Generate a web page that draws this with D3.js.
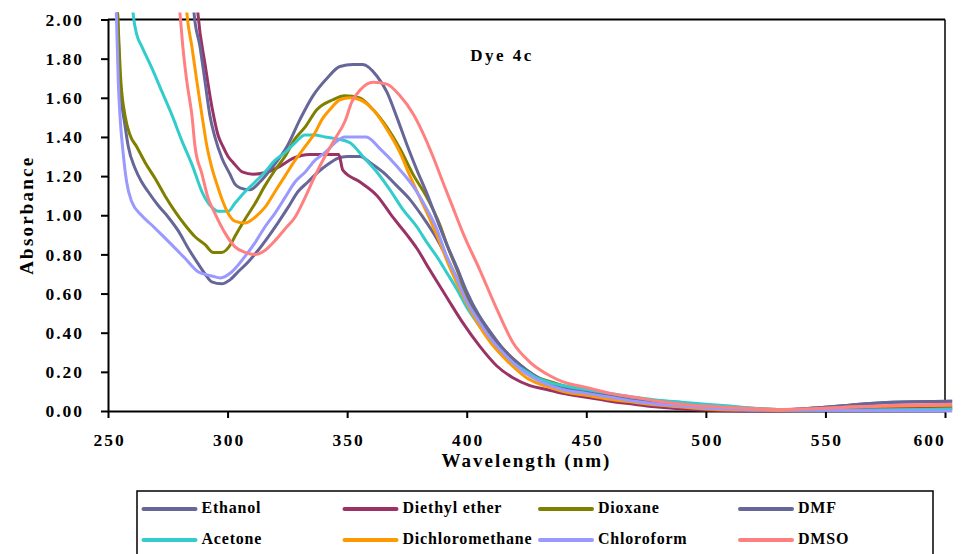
<!DOCTYPE html>
<html>
<head>
<meta charset="utf-8">
<script src="https://cdn.jsdelivr.net/npm/d3@7/dist/d3.min.js"></script>
<style>
body { margin: 0; background: #fff; }
text { font-family: "Liberation Serif", "Times New Roman", serif; font-weight: bold; fill: #000; }
</style>
</head>
<body>
<div id="chart"></div>
<script>
// absorbance spectra, [wavelength nm, absorbance]
var ethanol = [[252,2.3],[254,2.03],[255,1.68],[257.1,1.46],[258.5,1.35],[261.3,1.24],[264.1,1.17],[266.8,1.12],[271,1.05],[275.2,0.99],[279.4,0.92],[283.6,0.83],[287.8,0.75],[290.6,0.70],[293.4,0.66],[297.5,0.65],[301,0.67],[304.3,0.71],[308.5,0.76],[312.7,0.82],[317,0.89],[321,0.96],[325.3,1.04],[329.4,1.12],[333.6,1.17],[337.8,1.22],[342,1.26],[346,1.29],[350,1.30],[355.4,1.30],[359.5,1.27],[365,1.22],[370.8,1.15],[376.3,1.08],[381.7,0.99],[387.5,0.88],[391,0.80],[395,0.70],[400,0.58],[405,0.47],[410,0.38],[415,0.31],[420,0.25],[425,0.20],[430,0.16],[435,0.14],[440,0.12],[450,0.10],[460,0.075],[470,0.055],[480,0.04],[490,0.03],[500,0.02],[515,0.01],[530,0.005],[545,0.015],[560,0.03],[578,0.045],[603,0.05]];
var diethylEther = [[286,2.3],[287.6,2.03],[290.6,1.77],[293.5,1.55],[296,1.41],[298.1,1.35],[300.2,1.30],[302.3,1.27],[306.4,1.22],[310.6,1.21],[316.5,1.22],[321.9,1.25],[327.3,1.29],[334.4,1.31],[341.6,1.31],[346.5,1.31],[348.2,1.23],[355.4,1.17],[362.5,1.10],[369.1,0.99],[375,0.90],[379.2,0.83],[384.6,0.72],[391.7,0.58],[398.4,0.45],[405.5,0.33],[412.6,0.23],[419.3,0.17],[426.4,0.13],[433.5,0.11],[440,0.09],[450,0.07],[460,0.05],[470,0.035],[480,0.02],[490,0.01],[500,0.005],[520,0.0],[540,0.003],[560,0.01],[603,0.02]];
var dioxane = [[252.5,2.3],[254,2.03],[255.4,1.68],[257.1,1.51],[259.2,1.41],[262,1.35],[265.5,1.27],[269.6,1.19],[273.8,1.10],[278,1.02],[282.2,0.95],[286.4,0.89],[290.6,0.85],[294,0.81],[297.5,0.81],[301.7,0.86],[303,0.89],[307.3,0.98],[311.5,1.06],[315.6,1.15],[319.8,1.23],[324,1.30],[328.2,1.39],[332.4,1.45],[337.4,1.54],[344,1.59],[349,1.61],[355,1.60],[360.8,1.54],[366.6,1.45],[372.1,1.34],[377.5,1.21],[383.4,1.09],[388.8,0.95],[392,0.84],[396,0.72],[400,0.60],[405,0.49],[410,0.40],[415,0.32],[420,0.26],[425,0.21],[430,0.17],[435,0.15],[440,0.13],[450,0.11],[460,0.085],[470,0.065],[480,0.05],[490,0.04],[500,0.03],[510,0.02],[525,0.01],[540,0.005],[560,0.005],[603,0.01]];
var dmf = [[284.5,2.3],[286,2.03],[288.5,1.86],[290.6,1.68],[292.6,1.51],[294.7,1.40],[297.7,1.29],[301,1.21],[303,1.16],[305.2,1.14],[309.4,1.13],[313.5,1.17],[319,1.25],[324.8,1.35],[330.3,1.49],[335.7,1.61],[341.6,1.70],[347,1.76],[352.4,1.77],[356.6,1.77],[362.5,1.71],[366.6,1.63],[370.8,1.50],[375,1.36],[379.2,1.23],[383.4,1.11],[387.5,0.98],[391.7,0.85],[396,0.73],[400,0.61],[405,0.49],[410,0.40],[415,0.32],[420,0.26],[425,0.21],[430,0.17],[435,0.145],[440,0.125],[450,0.10],[460,0.08],[470,0.06],[480,0.045],[490,0.035],[500,0.025],[515,0.012],[530,0.006],[545,0.015],[560,0.03],[578,0.045],[603,0.05]];
var acetone = [[259,2.3],[260.5,2.03],[262.1,1.92],[264.2,1.86],[268.4,1.75],[272.6,1.63],[276.8,1.51],[280.9,1.38],[285.1,1.26],[289.3,1.12],[293.5,1.04],[296,1.02],[300.2,1.02],[303,1.06],[307.3,1.12],[311.5,1.17],[315.6,1.22],[319.8,1.28],[324,1.32],[328.2,1.37],[332.4,1.41],[336.5,1.41],[340.7,1.40],[346,1.39],[351.2,1.37],[356.6,1.30],[362.5,1.22],[367.9,1.13],[373.3,1.03],[379.2,0.94],[383.4,0.86],[388,0.78],[392,0.70],[396,0.62],[400,0.53],[405,0.44],[410,0.36],[415,0.29],[420,0.24],[425,0.20],[430,0.165],[435,0.145],[440,0.13],[450,0.11],[460,0.09],[470,0.07],[480,0.055],[490,0.045],[500,0.035],[510,0.025],[525,0.01],[540,0.005],[560,0.005],[603,0.01]];
var dichloromethane = [[281.5,2.3],[283,2.03],[285.1,1.86],[287.2,1.68],[289.3,1.51],[291.4,1.35],[293.5,1.24],[295.5,1.16],[297.7,1.08],[300.2,1.01],[303,0.97],[307.3,0.96],[311.5,0.99],[315.6,1.04],[319.8,1.12],[324,1.20],[328.2,1.28],[332.4,1.35],[336.5,1.42],[339.5,1.49],[342.8,1.54],[347,1.59],[351.2,1.60],[355.4,1.59],[360.8,1.54],[366.6,1.44],[372.1,1.32],[376.3,1.20],[380.4,1.09],[384.6,0.98],[388.8,0.86],[392,0.76],[396,0.65],[400,0.55],[405,0.44],[410,0.35],[415,0.28],[420,0.22],[425,0.17],[430,0.14],[435,0.12],[440,0.10],[450,0.08],[460,0.06],[470,0.045],[480,0.03],[490,0.02],[500,0.01],[515,0.005],[530,0.003],[545,0.01],[560,0.02],[580,0.025],[603,0.03]];
var chloroform = [[252,2.3],[253.5,2.03],[254.3,1.68],[255,1.51],[256.4,1.31],[257.8,1.17],[259.9,1.07],[264,1.00],[268.3,0.95],[272.5,0.90],[276.6,0.85],[282.2,0.78],[287.8,0.71],[293.4,0.69],[297,0.68],[301.7,0.71],[307.3,0.79],[311.5,0.86],[315.6,0.94],[319.8,1.01],[324,1.09],[328.2,1.17],[332.4,1.22],[336.5,1.28],[340.7,1.32],[344.9,1.37],[349,1.40],[358,1.40],[363.7,1.34],[370.8,1.25],[377.5,1.15],[383.4,1.03],[387.5,0.93],[391,0.81],[395,0.70],[400,0.56],[405,0.46],[410,0.37],[415,0.30],[420,0.24],[425,0.19],[430,0.155],[435,0.13],[440,0.11],[450,0.09],[460,0.07],[470,0.05],[480,0.035],[490,0.025],[500,0.015],[515,0.008],[530,0.005],[560,0.003],[603,0.0]];
var dmso = [[278.5,2.3],[280.1,2.03],[281.3,1.86],[283,1.68],[285.1,1.51],[286.4,1.35],[289.3,1.21],[291.8,1.09],[294.7,1.01],[298.9,0.91],[303,0.84],[307.3,0.81],[311.5,0.80],[315.6,0.82],[319.8,0.87],[324,0.93],[328.2,0.99],[332.4,1.09],[336.5,1.20],[340.7,1.30],[344.9,1.39],[349.1,1.48],[352,1.58],[355.4,1.64],[360.8,1.68],[366.6,1.67],[372.1,1.61],[377.5,1.52],[381.7,1.42],[385.9,1.30],[390,1.17],[394.2,1.04],[398.4,0.91],[405.5,0.72],[412.6,0.52],[419.3,0.35],[426.4,0.25],[434.8,0.18],[440,0.15],[450,0.12],[460,0.09],[470,0.07],[480,0.05],[490,0.035],[500,0.025],[515,0.015],[530,0.008],[545,0.012],[560,0.02],[580,0.03],[603,0.035]];

var seriesNames = ["Ethanol", "Diethyl ether", "Dioxane", "DMF", "Acetone", "Dichloromethane", "Chloroform", "DMSO"];
var seriesData = [ethanol, diethylEther, dioxane, dmf, acetone, dichloromethane, chloroform, dmso];
var seriesColors = ["#666699", "#993366", "#808000", "#666699", "#33CCCC", "#FF9900", "#9999FF", "#FF8080"];

var xTicks = [250, 300, 350, 400, 450, 500, 550, 600];
var yTicks = [0, 0.2, 0.4, 0.6, 0.8, 1.0, 1.2, 1.4, 1.6, 1.8, 2.0];

var svgWidth = 962;
var svgHeight = 554;

var margin = {
    top: 19.5,
    right: 17,
    bottom: 143,
    left: 108
};

var width = svgWidth - margin.left - margin.right;
var height = svgHeight - margin.top - margin.bottom;

var svg = d3.select("#chart")
    .append("svg")
    .attr("width", svgWidth)
    .attr("height", svgHeight);

var chartGroup = svg.append("g")
    .attr("transform", `translate(${margin.left}, ${margin.top})`);

var xScale = d3.scaleLinear().domain([250, 600]).range([0, width]);
var yScale = d3.scaleLinear().domain([0, 2]).range([height, 0]);

// clip the curves that run off the top
svg.append("defs").append("clipPath").attr("id", "plotClip")
  .append("rect")
    .attr("x", -8).attr("y", -7)
    .attr("width", width + 20).attr("height", height + 10);

// axes
var bottomAxis = d3.axisBottom(xScale)
    .tickValues(xTicks)
    .tickSize(7)
    .tickSizeOuter(0)
    .tickPadding(16);
var leftAxis = d3.axisLeft(yScale)
    .tickValues(yTicks)
    .tickFormat(d3.format(".2f"))
    .tickSize(7)
    .tickSizeOuter(0)
    .tickPadding(17);

var xAxisG = chartGroup.append("g")
    .attr("transform", `translate(0, ${height})`)
    .call(bottomAxis);
var yAxisG = chartGroup.append("g")
    .call(leftAxis);

[xAxisG, yAxisG].forEach(function(g) {
    g.selectAll("path, line").attr("stroke", "#000").attr("stroke-width", 2);
    g.selectAll("text")
        .attr("fill", "#000")
        .style("font-family", '"Liberation Serif", serif')
        .style("font-weight", "bold")
        .style("font-size", "17.5px")
        .style("letter-spacing", "2px");
});
// last label kept inside the chart area, as the original does
xAxisG.selectAll("text").attr("dx", d => d === 600 ? "-16px" : "1px");

// top and right border
chartGroup.append("line")
    .attr("x1", 0).attr("x2", width).attr("y1", 0).attr("y2", 0)
    .attr("stroke", "#000").attr("stroke-width", 2);
chartGroup.append("line")
    .attr("x1", width).attr("x2", width).attr("y1", 0).attr("y2", height)
    .attr("stroke", "#000").attr("stroke-width", 1.5);

// spectra
var line = d3.line()
    .x(d => xScale(d[0]))
    .y(d => yScale(d[1]))
    .curve(d3.curveMonotoneX);

chartGroup.append("g")
    .attr("clip-path", "url(#plotClip)")
  .selectAll("path")
  .data(seriesData)
  .enter()
  .append("path")
    .attr("d", line)
    .attr("fill", "none")
    .attr("stroke", (d, i) => seriesColors[i])
    .attr("stroke-width", 3)
    .attr("stroke-linejoin", "round");

// title
chartGroup.append("text")
    .attr("x", 394)
    .attr("y", 41.5)
    .attr("text-anchor", "middle")
    .style("font-size", "17px")
    .style("letter-spacing", "2.5px")
    .text("Dye 4c");

// axis labels
chartGroup.append("text")
    .attr("x", width / 2)
    .attr("y", 447.5)
    .attr("text-anchor", "middle")
    .style("font-size", "19px")
    .style("letter-spacing", "2px")
    .text("Wavelength (nm)");

chartGroup.append("text")
    .attr("transform", "rotate(-90)")
    .attr("x", -height / 2)
    .attr("y", 33 - margin.left)
    .attr("text-anchor", "middle")
    .style("font-size", "19px")
    .style("letter-spacing", "2.2px")
    .text("Absorbance");

// legend
var legendG = svg.append("g");
legendG.append("rect")
    .attr("x", 137).attr("y", 491)
    .attr("width", 796).attr("height", 80)
    .attr("fill", "none")
    .attr("stroke", "#000")
    .attr("stroke-width", 1.5);

var legendCols = [143.5, 344.5, 540, 740];
var legendRows = [509, 540];

var items = legendG.selectAll("g.item")
    .data(seriesNames)
    .enter()
    .append("g")
    .attr("transform", (d, i) => `translate(${legendCols[i % 4]}, ${legendRows[Math.floor(i / 4)]})`);

items.append("line")
    .attr("x1", 0).attr("x2", 52)
    .attr("stroke", (d, i) => seriesColors[i])
    .attr("stroke-width", 4)
    .attr("stroke-linecap", "round");

items.append("text")
    .attr("x", 58)
    .attr("y", 4)
    .style("font-size", "16px")
    .style("letter-spacing", "0.8px")
    .text(d => d);
</script>
</body>
</html>
